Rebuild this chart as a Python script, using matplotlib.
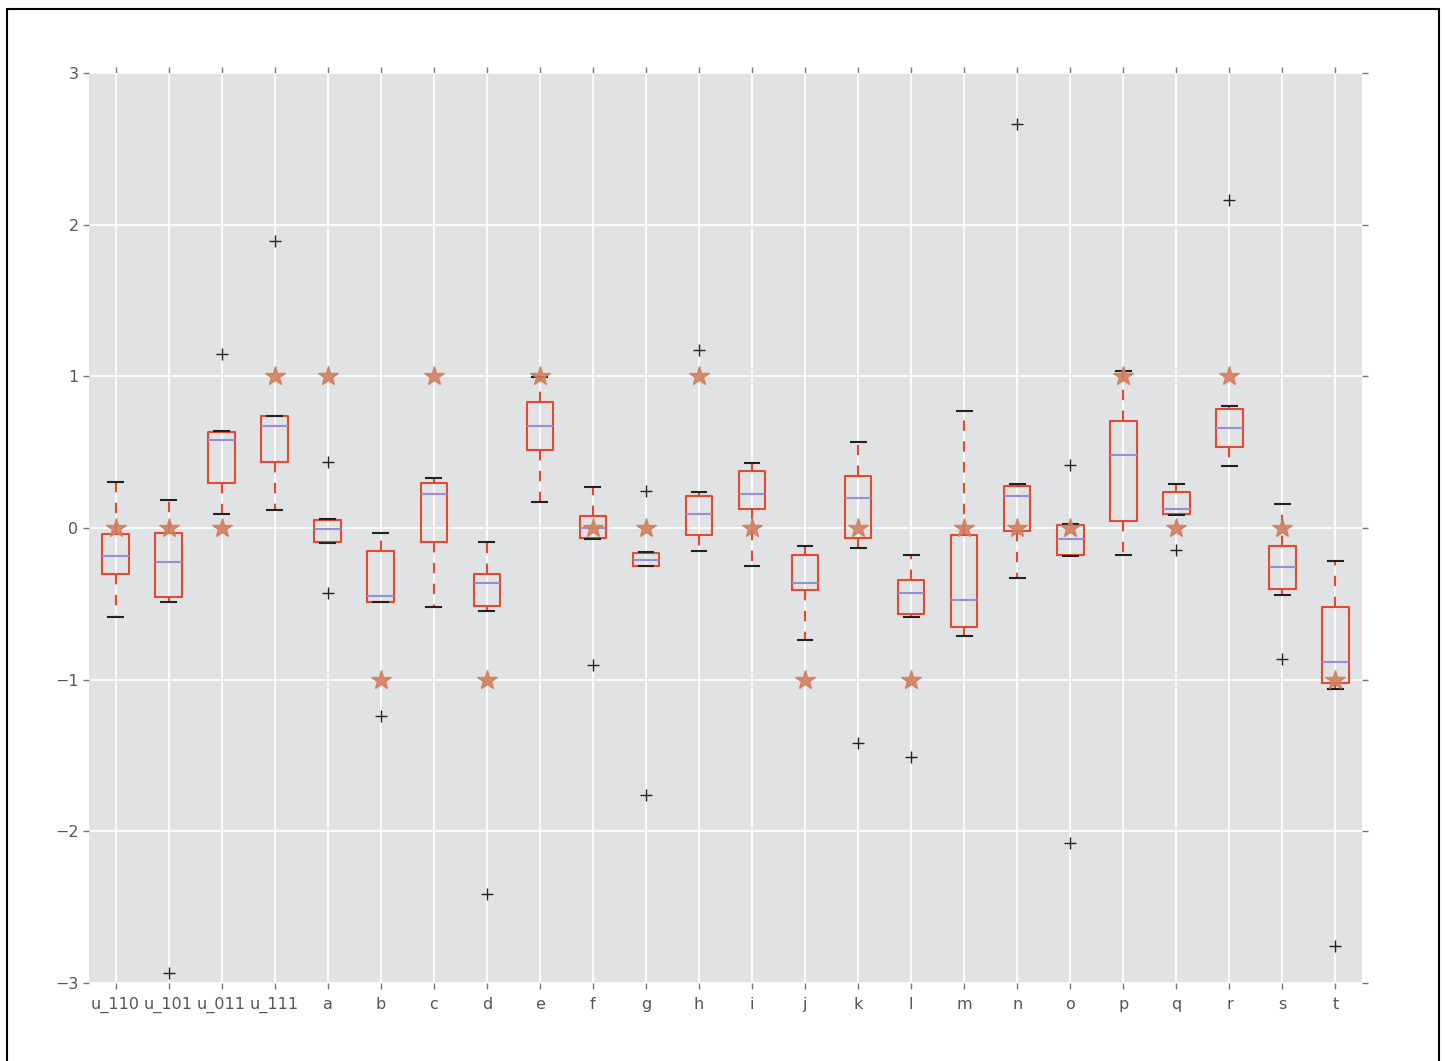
import matplotlib
matplotlib.use("Agg")
import matplotlib.pyplot as plt
from matplotlib.patches import Rectangle

categories = ["u_110", "u_101", "u_011", "u_111", "a", "b", "c", "d", "e", "f",
              "g", "h", "i", "j", "k", "l", "m", "n", "o", "p", "q", "r", "s", "t"]
whislo = [-0.59, -0.486, 0.09, 0.116, -0.099, -0.49, -0.519, -0.545, 0.169, -0.07,
          -0.25, -0.152, -0.25, -0.736, -0.132, -0.585, -0.71, -0.33, -0.185, -0.178,
          0.083, 0.406, -0.44, -1.06]
q1 = [-0.306, -0.457, 0.30, 0.433, -0.092, -0.486, -0.095, -0.512, 0.514, -0.064,
      -0.249, -0.046, 0.123, -0.411, -0.066, -0.567, -0.655, -0.02, -0.18, 0.048,
      0.092, 0.536, -0.405, -1.024]
med = [-0.183, -0.224, 0.578, 0.67, -0.009, -0.446, 0.226, -0.365, 0.674, 0.002,
       -0.209, 0.092, 0.222, -0.361, 0.2, -0.431, -0.475, 0.213, -0.075, 0.479,
       0.127, 0.661, -0.255, -0.881]
q3 = [-0.04, -0.035, 0.633, 0.736, 0.055, -0.152, 0.294, -0.306, 0.833, 0.077,
      -0.165, 0.208, 0.373, -0.178, 0.34, -0.343, -0.049, 0.274, 0.022, 0.703,
      0.237, 0.786, -0.121, -0.521]
whishi = [0.303, 0.185, 0.641, 0.74, 0.059, -0.035, 0.332, -0.095, 0.993, 0.268,
          -0.161, 0.237, 0.426, -0.117, 0.564, -0.18, 0.771, 0.287, 0.026, 1.033,
          0.29, 0.806, 0.156, -0.216]
fliers = [[], [-2.935], [1.148], [1.895], [0.437, -0.429], [-1.237], [], [-2.41], [],
          [-0.901], [0.246, -1.76], [1.171], [], [], [-1.42], [-1.51], [], [2.665],
          [0.415, -2.074], [], [-0.147], [2.165], [-0.862], [-2.755]]
truth = [0, 0, 0, 1, 1, -1, 1, -1, 1, 0, 0, 1, 0, -1, 0, -1, 0, 0, 0, 1, 0, 1, 0, -1]
yticks = [-3, -2, -1, 0, 1, 2, 3]
ytick_labels = ["\u22123", "\u22122", "\u22121", "0", "1", "2", "3"]

W, H = 1445, 1061
fig = plt.figure(figsize=(W / 100, H / 100), dpi=100)
ax = fig.add_axes([89 / W, 1 - 983 / H, (1362 - 89) / W, (983 - 73) / H])

ax.set_facecolor("#E1E2E4")
ax.set_axisbelow(True)
ax.grid(True, color="white", linewidth=1.2)
for s in ax.spines.values():
    s.set_visible(False)

stats = []
for i, c in enumerate(categories):
    stats.append(dict(label=c, whislo=whislo[i], q1=q1[i], med=med[i], q3=q3[i],
                      whishi=whishi[i], fliers=fliers[i]))
positions = list(range(1, len(categories) + 1))

ax.bxp(stats, positions=positions, widths=0.5, capwidths=0.28,
       boxprops=dict(color="#E24A33", linewidth=1.5),
       whiskerprops=dict(color="#E24A33", linewidth=1.5, linestyle=(0, (5, 5))),
       capprops=dict(color="#222222", linewidth=1.5),
       medianprops=dict(color="#988ED5", linewidth=1.5),
       flierprops=dict(marker="+", markeredgecolor="#222222", markersize=8,
                       markeredgewidth=1.0, linestyle="none"))

ax.plot(positions, truth, linestyle="none", marker="*", markersize=15,
        color="#D17E5E", markeredgecolor="#D17E5E", alpha=0.9, zorder=5)

ax.set_xlim(0.5, len(categories) + 0.5)
ax.set_ylim(-3, 3)
ax.set_xticks(positions)
ax.set_xticklabels(categories)
ax.set_yticks(yticks)
ax.set_yticklabels(ytick_labels)
ax.tick_params(axis="both", which="major", direction="out", length=4, width=1,
               color="#777777", labelcolor="#555555", labelsize=11.5,
               top=True, right=True, labeltop=False, labelright=False)
ax.tick_params(axis="x", pad=6)

fig.add_artist(Rectangle((7 / W, -0.05), (1439 - 7) / W, 1 - 9 / H + 0.05,
                         transform=fig.transFigure, fill=False,
                         edgecolor="black", linewidth=1.5))

fig.savefig("out.png", dpi=100, facecolor="white")
